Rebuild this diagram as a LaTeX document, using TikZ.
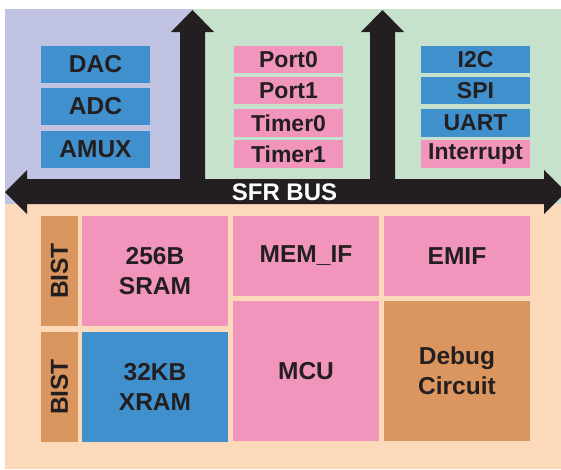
\documentclass[tikz,border=0pt]{standalone}
\usepackage{fontspec}
\setmainfont{Liberation Sans}
\definecolor{cpurple}{RGB}{193,195,226}
\definecolor{cgreen}{RGB}{198,226,204}
\definecolor{cpeach}{RGB}{252,217,187}
\definecolor{cblue}{RGB}{64,144,205}
\definecolor{cpink}{RGB}{242,149,189}
\definecolor{ctan}{RGB}{219,150,96}
\definecolor{cdark}{RGB}{35,31,32}
\tikzset{
  blk/.style={rectangle, inner sep=0pt, outer sep=0pt, draw=none, text=cdark, align=center,
    font=\fontsize{24.5}{30}\selectfont\bfseries},
  small/.style={blk, font=\fontsize{23}{27}\selectfont\bfseries},
}
\begin{document}
\begin{tikzpicture}[x=1pt,y=-1pt]
\useasboundingbox (0,0) rectangle (561,469);
\clip (0,0) rectangle (561,469);
% backgrounds
\fill[cpurple] (5,9) rectangle (193,204);
\fill[cgreen] (193,9) rectangle (561,204);
\fill[cpeach] (5,204) rectangle (561,469);
% bus
\fill[cdark] (5,192) -- (27,170) -- (27,179) -- (180,179) -- (180,32) -- (171,32) -- (192.5,10)
  -- (214,32) -- (205,32) -- (205,179) -- (370,179) -- (370,32) -- (361,32) -- (382.5,10)
  -- (404,32) -- (395,32) -- (395,179) -- (544,179) -- (544,170) -- (566,192) -- (544,214)
  -- (544,204) -- (27,204) -- (27,214) -- cycle;
\node[blk, text=white, font=\fontsize{24}{28}\selectfont\bfseries] (bus) at (284.5,192) {SFR BUS};
% left group
\node[blk, fill=cblue, minimum width=109pt, minimum height=37pt] (dac) at (95.5,64.5) {DAC};
\node[blk, fill=cblue, minimum width=109pt, minimum height=37pt] (adc) at (95.5,106.5) {ADC};
\node[blk, fill=cblue, minimum width=109pt, minimum height=37pt] (amux) at (95.5,149.5) {AMUX};
% middle group
\node[small, fill=cpink, minimum width=109pt, minimum height=27pt] (port0) at (288.5,59.5) {Port0};
\node[small, fill=cpink, minimum width=109pt, minimum height=27pt] (port1) at (288.5,90.5) {Port1};
\node[small, fill=cpink, minimum width=109pt, minimum height=28pt] (timer0) at (288.5,123) {Timer0};
\node[small, fill=cpink, minimum width=109pt, minimum height=28pt] (timer1) at (288.5,154) {Timer1};
% right group
\node[small, fill=cblue, minimum width=109pt, minimum height=27pt] (i2c) at (475.5,59.5) {I2C};
\node[small, fill=cblue, minimum width=109pt, minimum height=27pt] (spi) at (475.5,90.5) {SPI};
\node[small, fill=cblue, minimum width=109pt, minimum height=28pt] (uart) at (475.5,123) {UART};
\node[small, fill=cpink, minimum width=109pt, minimum height=28pt] (intr) at (475.5,154) {Interrupt};
% bottom
\node[blk, fill=ctan, minimum width=110pt, minimum height=37pt, rotate=90] (bist1) at (59.5,271) {BIST};
\node[blk, fill=ctan, minimum width=110pt, minimum height=37pt, rotate=90] (bist2) at (59.5,387) {BIST};
\node[blk, fill=cpink, minimum width=146pt, minimum height=110pt] (sram) at (155,271) {256B\\SRAM};
\node[blk, fill=cblue, minimum width=146pt, minimum height=110pt] (xram) at (155,387) {32KB\\XRAM};
\node[blk, fill=cpink, minimum width=146pt, minimum height=80pt] (memif) at (306,256) {MEM\_IF};
\node[blk, fill=cpink, minimum width=146pt, minimum height=140pt] (mcu) at (306,371) {MCU};
\node[blk, fill=cpink, minimum width=146pt, minimum height=80pt] (emif) at (457,256) {EMIF};
\node[blk, fill=ctan, minimum width=146pt, minimum height=140pt] (debug) at (457,371) {Debug\\Circuit};
\end{tikzpicture}
\end{document}
